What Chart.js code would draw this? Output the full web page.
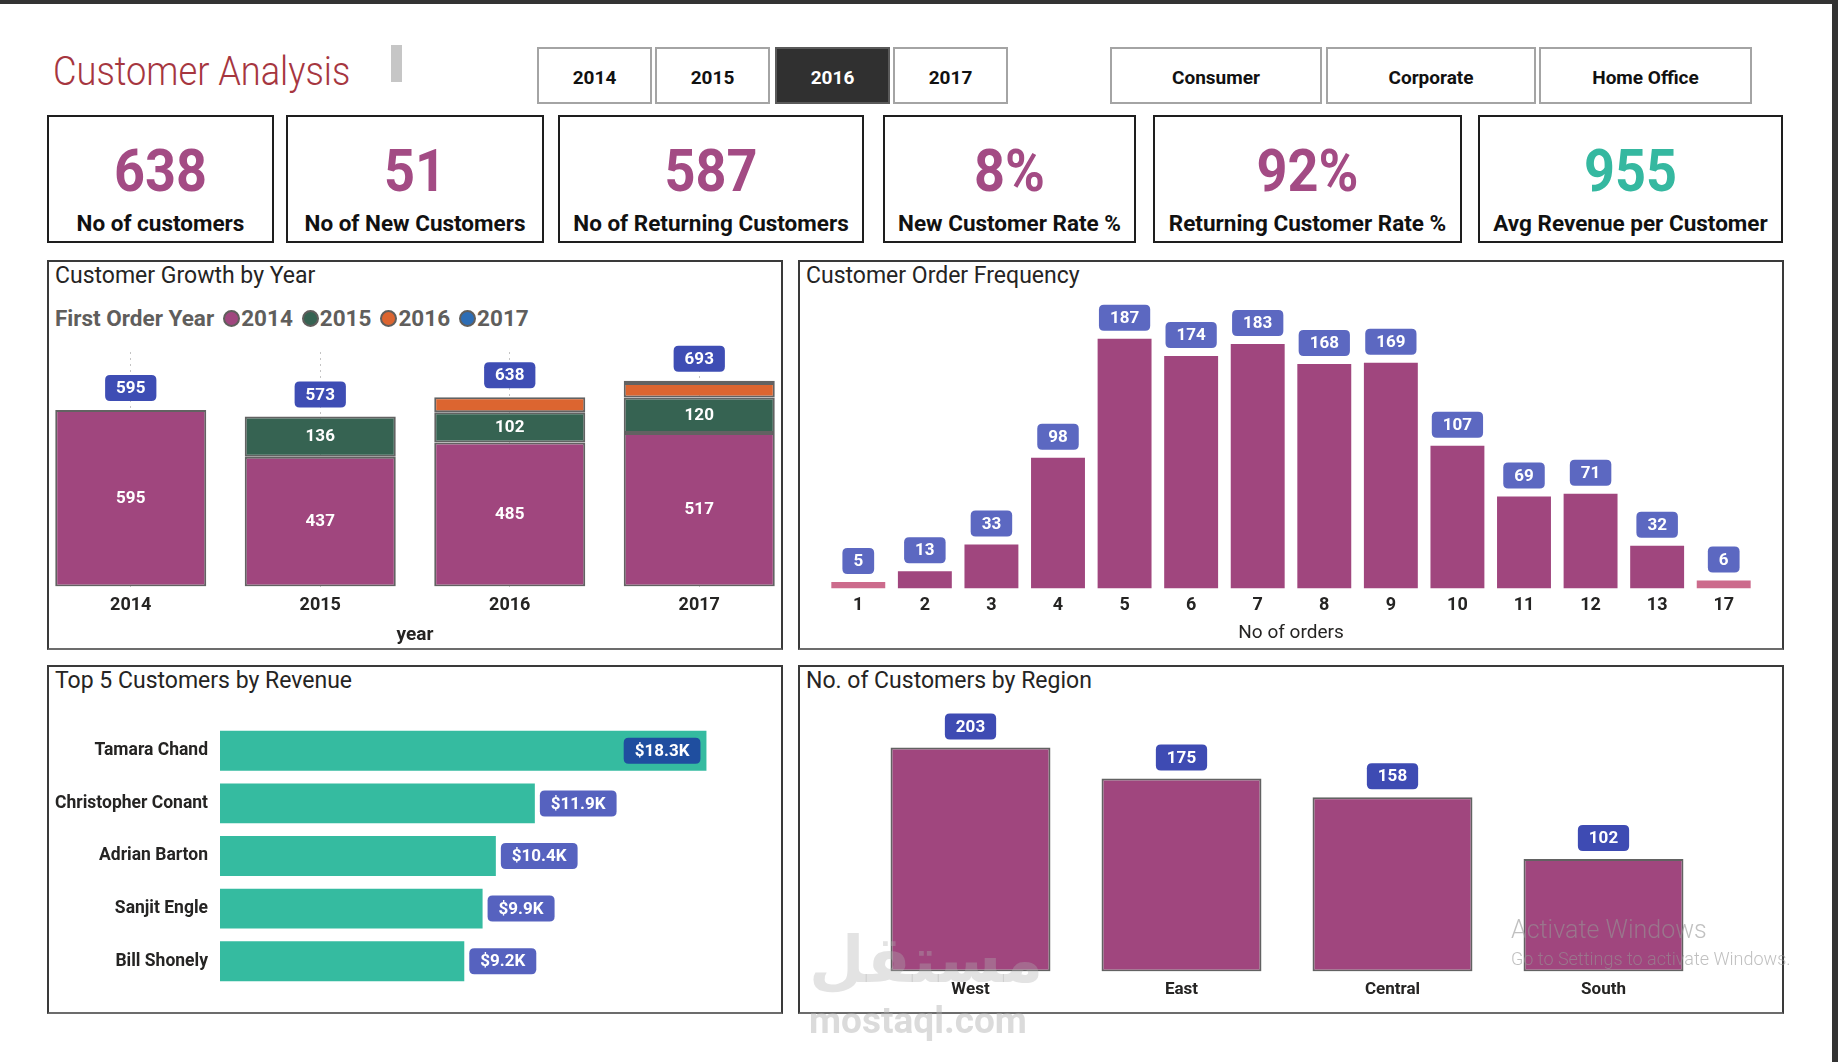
<!DOCTYPE html>
<html lang="en">
<head>
  <meta charset="UTF-8">
  <title>Customer Analysis</title>
  <script src="https://cdn.jsdelivr.net/npm/chart.js"></script>
  <style>
    body {
      margin: 0;
      width: 1838px;
      height: 1062px;
      background: #ffffff;
      font-family: Roboto, sans-serif;
      position: relative;
      overflow: hidden;
      color: #252423;
    }
    .abs { position: absolute; }
    .frame-top { left: 0; top: 0; width: 1838px; height: 4px; background: #333; }
    .frame-right { left: 1832px; top: 0; width: 6px; height: 1062px; background: #333; }
    .title {
      left: 53px; top: 52px;
      font-size: 40px; font-weight: 300; line-height: 40px;
      color: #a6363f; white-space: nowrap;
      transform: scaleX(0.905); transform-origin: left center;
    }
    .marker { left: 391px; top: 45px; width: 11px; height: 37px; background: #c6c6c6; }
    .btn {
      top: 47px; height: 57px; box-sizing: border-box;
      border: 2px solid #a4a4a4; background: #fff;
      display: flex; align-items: center; justify-content: center;
      padding-top: 3px;
      font-size: 19px; font-weight: 700; color: #111;
    }
    .btn.on { background: #303030; border-color: #5a5a5a; color: #fff; }
    .card {
      top: 115px; height: 128px; box-sizing: border-box;
      border: 2px solid #1e1e1e; background: #fff;
    }
    .card .num {
      position: absolute; left: 0; right: 0; top: 24px;
      text-align: center; font-size: 60px; line-height: 60px; font-weight: 700;
      color: #a34b84; transform: scaleX(0.9);
    }
    .card .lbl {
      position: absolute; left: 0; right: 0; top: 95px;
      text-align: center; font-size: 22.5px; line-height: 22.5px; font-weight: 700;
      color: #111; white-space: nowrap;
    }
    .panel {
      box-sizing: border-box; background: #fff;
      border: 2px solid #3a3a3a; border-bottom-color: #6c6c6c;
    }
    .panel .ptitle {
      position: absolute; left: 6px; top: 2px;
      font-size: 23px; line-height: 24px; color: #252423; white-space: nowrap;
    }
    .legend {
      left: 55px; top: 305px; height: 26px;
      display: flex; align-items: center;
      font-size: 22.5px; font-weight: 700; color: #605e5c; white-space: nowrap;
    }
    .legend .item { display: flex; align-items: center; margin-left: 9px; }
    .legend .dot {
      width: 13px; height: 13px; border-radius: 50%;
      border: 2px solid #605e5c; margin-right: 1px;
    }
    canvas { position: absolute; }
    .wm { position: absolute; pointer-events: none; white-space: nowrap; }
  </style>
</head>
<body>
  <div class="abs frame-top"></div>
  <div class="abs frame-right"></div>

  <div class="abs title">Customer Analysis</div>
  <div class="abs marker"></div>

  <div class="abs btn" style="left:537px;width:115px">2014</div>
  <div class="abs btn" style="left:655px;width:115px">2015</div>
  <div class="abs btn on" style="left:775px;width:115px">2016</div>
  <div class="abs btn" style="left:893px;width:115px">2017</div>
  <div class="abs btn" style="left:1110px;width:212px">Consumer</div>
  <div class="abs btn" style="left:1326px;width:210px">Corporate</div>
  <div class="abs btn" style="left:1539px;width:213px">Home Office</div>

  <div class="abs card" style="left:47px;width:227px"><div class="num">638</div><div class="lbl">No of customers</div></div>
  <div class="abs card" style="left:286px;width:258px"><div class="num">51</div><div class="lbl">No of New Customers</div></div>
  <div class="abs card" style="left:558px;width:306px"><div class="num">587</div><div class="lbl">No of Returning Customers</div></div>
  <div class="abs card" style="left:883px;width:253px"><div class="num">8%</div><div class="lbl">New Customer Rate %</div></div>
  <div class="abs card" style="left:1153px;width:309px"><div class="num">92%</div><div class="lbl">Returning Customer Rate %</div></div>
  <div class="abs card" style="left:1478px;width:305px"><div class="num" style="color:#35b8a0">955</div><div class="lbl">Avg Revenue per Customer</div></div>

  <div class="abs panel" style="left:47px;top:260px;width:736px;height:390px"><div class="ptitle">Customer Growth by Year</div></div>
  <div class="abs panel" style="left:798px;top:260px;width:986px;height:390px"><div class="ptitle">Customer Order Frequency</div></div>
  <div class="abs panel" style="left:47px;top:665px;width:736px;height:349px"><div class="ptitle">Top 5 Customers by Revenue</div></div>
  <div class="abs panel" style="left:798px;top:665px;width:986px;height:349px"><div class="ptitle">No. of Customers by Region</div></div>

  <div class="abs legend" id="legend">First Order Year</div>

  <canvas id="growth" width="758" height="321" style="left:36px;top:330px"></canvas>
  <canvas id="freq" width="932" height="349" style="left:825px;top:300px"></canvas>
  <canvas id="top5" width="730" height="308" style="left:47px;top:702px"></canvas>
  <canvas id="region" width="844" height="308" style="left:865px;top:700px"></canvas>

  <div class="wm" style="left:809px;top:925px;font-family:'DejaVu Sans';font-weight:700;font-size:64px;line-height:70px;color:rgba(175,175,175,0.35)">مستقل</div>
  <div class="wm" style="left:809px;top:1001px;font-weight:700;font-size:37px;line-height:40px;color:rgba(175,175,175,0.45)">mostaql.com</div>
  <div class="wm" style="left:1511px;top:915px;font-weight:300;font-size:25px;line-height:30px;color:rgba(150,150,150,0.6)">Activate Windows</div>
  <div class="wm" style="left:1511px;top:949px;font-weight:300;font-size:18px;line-height:20px;color:rgba(150,150,150,0.6)">Go to Settings to activate Windows.</div>

  <script>
    // Customer growth by year, split by first order year
    const growthYears = ['2014', '2015', '2016', '2017'];
    const cohortNames = ['2014', '2015', '2016', '2017'];
    const cohort2014 = [595, 437, 485, 517];
    const cohort2015 = [null, 136, 102, 120];
    const cohort2016 = [null, null, 51, 49];
    const cohort2017 = [null, null, null, 7];
    const cohortColors = ['#a0467e', '#366352', '#dc6530', '#2d6db5'];

    // Customer order frequency
    const orderCounts = ['1', '2', '3', '4', '5', '6', '7', '8', '9', '10', '11', '12', '13', '17'];
    const orderCustomers = [5, 13, 33, 98, 187, 174, 183, 168, 169, 107, 69, 71, 32, 6];

    // Top 5 customers by revenue
    const topNames = ['Tamara Chand', 'Christopher Conant', 'Adrian Barton', 'Sanjit Engle', 'Bill Shonely'];
    const topRevenue = [18340, 11870, 10400, 9900, 9210];

    // Customers by region
    const regions = ['West', 'East', 'Central', 'South'];
    const regionCustomers = [203, 175, 158, 102];

    const PURPLE = '#a0467e';
    const PINK = '#cc6b8c';
    const FONT = 'Roboto';

    // legend
    const legend = document.getElementById('legend');
    cohortNames.forEach((n, i) => {
      const it = document.createElement('span');
      it.className = 'item';
      it.innerHTML = '<span class="dot" style="background:' + cohortColors[i] + '"></span>' + n;
      legend.appendChild(it);
    });

    function roundBox(ctx, cx, cy, text, bg, fontSize) {
      ctx.save();
      ctx.font = 'bold ' + fontSize + 'px ' + FONT;
      const w = ctx.measureText(text).width + 22;
      const h = 26;
      const x = cx - w / 2, y = cy - h / 2, r = 5;
      ctx.beginPath();
      ctx.moveTo(x + r, y);
      ctx.lineTo(x + w - r, y);
      ctx.quadraticCurveTo(x + w, y, x + w, y + r);
      ctx.lineTo(x + w, y + h - r);
      ctx.quadraticCurveTo(x + w, y + h, x + w - r, y + h);
      ctx.lineTo(x + r, y + h);
      ctx.quadraticCurveTo(x, y + h, x, y + h - r);
      ctx.lineTo(x, y + r);
      ctx.quadraticCurveTo(x, y, x + r, y);
      ctx.closePath();
      ctx.fillStyle = bg;
      ctx.fill();
      ctx.fillStyle = '#fff';
      ctx.textAlign = 'center';
      ctx.textBaseline = 'middle';
      ctx.fillText(text, cx, cy + 1);
      ctx.restore();
      return w;
    }

    function boxWidth(ctx, text, fontSize) {
      ctx.save();
      ctx.font = 'bold ' + fontSize + 'px ' + FONT;
      const w = ctx.measureText(text).width + 22;
      ctx.restore();
      return w;
    }

    // labels drawn from the bar elements Chart.js laid out
    const boxLabels = {
      id: 'boxLabels',
      afterDatasetsDraw(chart, args, opts) {
        const ctx = chart.ctx;
        if (opts.mode === 'stack') {
          const metas = chart.getSortedVisibleDatasetMetas();
          chart.data.labels.forEach((lab, i) => {
            let total = 0;
            chart.data.datasets.forEach(ds => { total += ds.data[i] || 0; });
            metas.forEach(meta => {
              const el = meta.data[i];
              const v = chart.data.datasets[meta.index].data[i];
              if (v && Math.abs(el.base - el.y) > 28) {
                ctx.save();
                ctx.font = 'bold 17px ' + FONT;
                ctx.fillStyle = '#fff';
                ctx.textAlign = 'center';
                ctx.textBaseline = 'middle';
                ctx.fillText(String(v), el.x, (el.y + el.base) / 2);
                ctx.restore();
              }
            });
            const x = metas[0].data[i].x;
            const top = chart.scales.y.getPixelForValue(total);
            roundBox(ctx, x, top - 9 - 13, String(total), opts.color, 17);
          });
        } else if (opts.mode === 'top') {
          const meta = chart.getDatasetMeta(0);
          meta.data.forEach((el, i) => {
            const v = chart.data.datasets[0].data[i];
            roundBox(ctx, el.x, el.y - 8 - 13, String(v), opts.color, 17);
          });
        } else if (opts.mode === 'end') {
          const meta = chart.getDatasetMeta(0);
          meta.data.forEach((el, i) => {
            const v = chart.data.datasets[0].data[i];
            const text = '$' + (v / 1000).toFixed(1) + 'K';
            const w = boxWidth(ctx, text, 17);
            if (el.x + 5 + w > chart.chartArea.right) {
              roundBox(ctx, el.x - 6 - w / 2, el.y, text, opts.insideColor, 17);
            } else {
              roundBox(ctx, el.x + 5 + w / 2, el.y, text, opts.color, 17);
            }
          });
        }
      }
    };

    const common = {
      responsive: false,
      animation: false,
      events: [],
    };

    new Chart(document.getElementById('growth'), {
      type: 'bar',
      data: {
        labels: growthYears,
        datasets: [cohort2014, cohort2015, cohort2016, cohort2017].map((d, i) => ({
          label: cohortNames[i],
          data: d,
          backgroundColor: cohortColors[i],
          borderColor: '#626262',
          borderWidth: 2,
          borderSkipped: false,
          barPercentage: 0.797,
          categoryPercentage: 1
        }))
      },
      options: Object.assign({}, common, {
        layout: { padding: { top: 22, left: 0, right: 0, bottom: 0 } },
        plugins: {
          legend: { display: false },
          tooltip: { enabled: false },
          boxLabels: { mode: 'stack', color: '#3e4db4' }
        },
        scales: {
          x: {
            stacked: true,
            grid: { display: true, offset: false, drawTicks: false, color: '#c4c4c4', lineWidth: 1 },
            border: { display: false, dash: [2, 4] },
            ticks: { padding: 8, color: '#252423', font: { family: FONT, weight: 'bold', size: 18 } },
            title: { display: true, text: 'year', color: '#252423', padding: { top: 0, bottom: 4 },
                     font: { family: FONT, weight: 'bold', size: 19 } }
          },
          y: { stacked: true, display: false, min: 0, max: 790 }
        }
      }),
      plugins: [boxLabels]
    });

    new Chart(document.getElementById('freq'), {
      type: 'bar',
      data: {
        labels: orderCounts,
        datasets: [{
          label: 'Customers',
          data: orderCustomers,
          backgroundColor: orderCounts.map((c, i) => (i === 0 || i === orderCounts.length - 1) ? PINK : PURPLE),
          barPercentage: 0.81,
          categoryPercentage: 1
        }]
      },
      options: Object.assign({}, common, {
        layout: { padding: { top: 8, left: 0, right: 0, bottom: 0 } },
        plugins: {
          legend: { display: false },
          tooltip: { enabled: false },
          boxLabels: { mode: 'top', color: '#5c68c1' }
        },
        scales: {
          x: {
            grid: { display: false, drawTicks: false },
            border: { display: false },
            ticks: { padding: 6, color: '#252423', font: { family: FONT, weight: 'bold', size: 18 } },
            title: { display: true, text: 'No of orders', color: '#252423', padding: { top: 0, bottom: 4 },
                     font: { family: FONT, size: 19 } }
          },
          y: { display: false, min: 0, max: 210 }
        }
      }),
      plugins: [boxLabels]
    });

    new Chart(document.getElementById('top5'), {
      type: 'bar',
      data: {
        labels: topNames,
        datasets: [{
          label: 'Revenue',
          data: topRevenue,
          backgroundColor: '#35bba0',
          barPercentage: 0.758,
          categoryPercentage: 1
        }]
      },
      options: Object.assign({}, common, {
        indexAxis: 'y',
        layout: { padding: 0 },
        plugins: {
          legend: { display: false },
          tooltip: { enabled: false },
          boxLabels: { mode: 'end', color: '#5662bf', insideColor: '#1f4e9f' }
        },
        scales: {
          x: { display: false, min: 0, max: 21000 },
          y: {
            grid: { display: false, drawTicks: false },
            border: { display: false },
            ticks: { padding: 12, color: '#252423', font: { family: FONT, weight: 'bold', size: 17.5 } },
            afterFit(scale) { scale.width = 173; }
          }
        }
      }),
      plugins: [boxLabels]
    });

    new Chart(document.getElementById('region'), {
      type: 'bar',
      data: {
        labels: regions,
        datasets: [{
          label: 'Customers',
          data: regionCustomers,
          backgroundColor: PURPLE,
          borderColor: '#626262',
          borderWidth: 2,
          borderSkipped: false,
          barPercentage: 0.758,
          categoryPercentage: 1
        }]
      },
      options: Object.assign({}, common, {
        layout: { padding: { top: 20, left: 0, right: 0, bottom: 0 } },
        plugins: {
          legend: { display: false },
          tooltip: { enabled: false },
          boxLabels: { mode: 'top', color: '#3e4bb3' }
        },
        scales: {
          x: {
            grid: { display: false, drawTicks: false },
            border: { display: false },
            ticks: { padding: 8, color: '#252423', font: { family: FONT, weight: 'bold', size: 17 } }
          },
          y: { display: false, min: 0, max: 228 }
        }
      }),
      plugins: [boxLabels]
    });
  </script>
</body>
</html>
